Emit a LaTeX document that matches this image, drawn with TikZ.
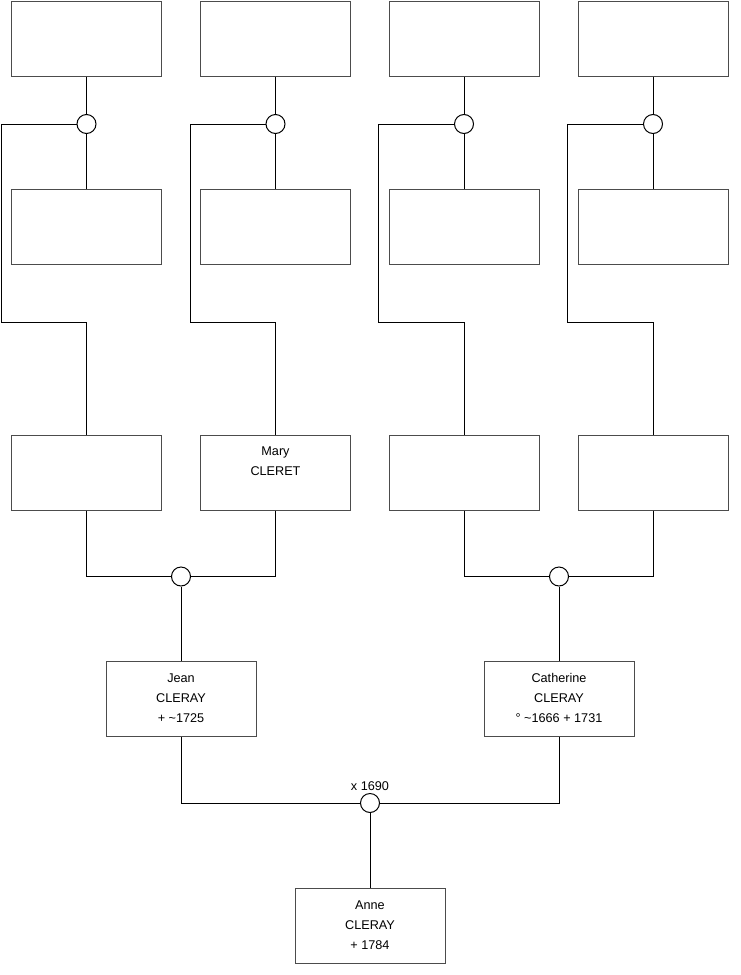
\documentclass[tikz,border=0pt]{standalone}
\usepackage{fontspec}
\setmainfont{Liberation Sans}
\usepackage{tikz}
\usetikzlibrary{calc}
\tikzset{
  caja/.style={draw=black!70, minimum width=112.5pt, minimum height=56.25pt, inner sep=0pt},
  union/.style={draw, circle, fill=white, minimum size=14.25pt, inner sep=0pt},
  texto/.style={anchor=north, inner sep=0pt, align=center, font=\fontsize{9.5}{15}\selectfont},
}

\begin{document}
\begin{tikzpicture}[x=0.75pt, y=-0.75pt, line width=0.75pt]
    \useasboundingbox (0,0) rectangle (740,975);
    % cuatro ramas de arriba
    \foreach \i/\xc in {1/86.5, 2/275.5, 3/464, 4/653}{
        \node[caja] (a\i) at (\xc,38.5) {};
        \node[caja] (b\i) at (\xc,227) {};
        \node[caja] (c\i) at (\xc,472.5) {};
        \node[union] (u\i) at (\xc,124) {};
        \coordinate (r\i) at ($(\xc,322)-(85.5,0)$);
        \draw (a\i.south) -- (u\i.north);
        \draw (u\i.south) -- (b\i.north);
        \draw (u\i.west) -| (r\i) -| (c\i.north);
    }
    \node[texto] at ($(c2.north)+(0,11.5)$) {Mary\\CLERET};
    % padres
    \node[union] (v1) at (181,576.5) {};
    \node[union] (v2) at (559,576.5) {};
    \draw (c1.south) |- (v1.west);  \draw (c2.south) |- (v1.east);
    \draw (c3.south) |- (v2.west);  \draw (c4.south) |- (v2.east);
    \node[caja] (jean) at (181,699) {};
    \node[caja] (cath) at (559,699) {};
    \node[texto] at ($(jean.north)+(0,12)$) {Jean\\CLERAY\\+ \textasciitilde1725};
    \node[texto] at ($(cath.north)+(0,12)$) {Catherine\\CLERAY\\° \textasciitilde1666 + 1731};
    \draw (v1.south) -- (jean.north);
    \draw (v2.south) -- (cath.north);
    % mariage 1690
    \node[union, label={[font=\fontsize{9.5}{15}\selectfont, inner sep=1.5pt]above:x 1690}] (w) at (370,803) {};
    \draw (jean.south) |- (w.west);
    \draw (cath.south) |- (w.east);
    \node[caja] (anne) at (370,926) {};
    \node[texto] at ($(anne.north)+(0,12)$) {Anne\\CLERAY\\+ 1784};
    \draw (w.south) -- (anne.north);
\end{tikzpicture}
\end{document}
